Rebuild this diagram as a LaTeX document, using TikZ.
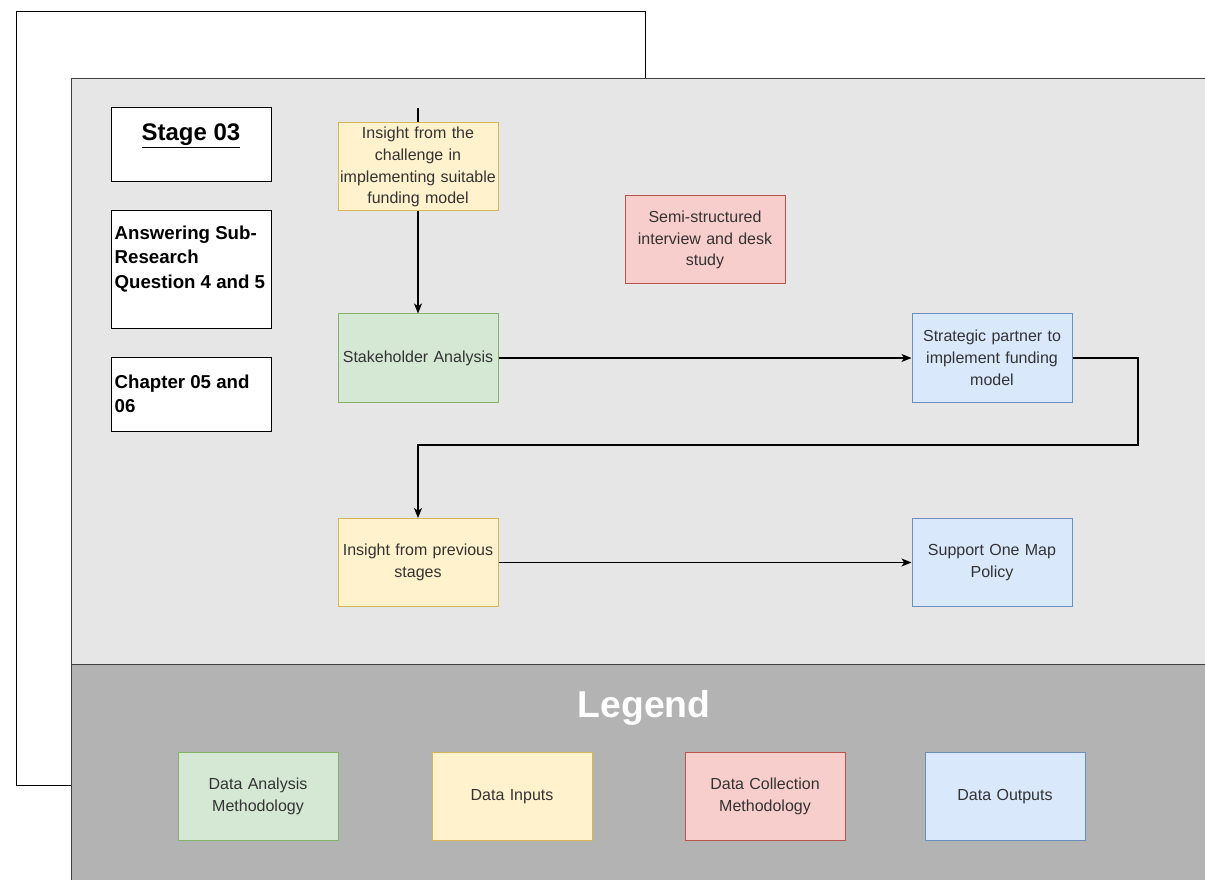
\documentclass[tikz,border=0pt]{standalone}
\usepackage{fontspec}
\setmainfont{Liberation Sans}
\usetikzlibrary{arrows.meta,positioning}
\definecolor{greenfill}{HTML}{D5E8D4}
\definecolor{greenline}{HTML}{82B366}
\definecolor{yellowfill}{HTML}{FFF2CC}
\definecolor{yellowline}{HTML}{D6B656}
\definecolor{redfill}{HTML}{F8CECC}
\definecolor{redline}{HTML}{B85450}
\definecolor{bluefill}{HTML}{DAE8FC}
\definecolor{blueline}{HTML}{6C8EBF}
\definecolor{panelgrey}{HTML}{E6E6E6}
\definecolor{legendgrey}{HTML}{B3B3B3}

\begin{document}
\begin{tikzpicture}[x=0.75pt,y=-0.75pt,->,>={Stealth[length=7.5pt,width=6pt,inset=2pt]},line width=1pt,node distance=430.5pt,
  box/.style={rectangle,draw,line width=0.75pt,minimum width=120pt,minimum height=66pt,text width=118pt,align=center,inner xsep=1pt,inner ysep=2pt,font=\fontsize{12}{16.3}\selectfont,text=black!80},
  analysis/.style={box,fill=greenfill,draw=greenline},
  inputs/.style={box,fill=yellowfill,draw=yellowline},
  collection/.style={box,fill=redfill,draw=redline},
  outputs/.style={box,fill=bluefill,draw=blueline},
  info/.style={rectangle,draw,fill=white,line width=0.75pt,minimum width=120pt},
  infotext/.style={anchor=north west,inner sep=0pt,align=left,font=\bfseries\fontsize{14}{18.4}\selectfont}]
  \clip (0,0) rectangle (1205,880);
  % panels
  \draw[-,line width=0.75pt] (16,12) rectangle (645,785);
  \draw[-,line width=0.75pt,fill=panelgrey,draw=black!75] (71,79) rectangle (1220,895);
  \draw[-,line width=0.75pt,fill=legendgrey,draw=black!75] (71,664) rectangle (1220,895);
  % stage info
  \node[info,minimum height=55.5pt] (stage) at (191,145) {};
  \node[font=\bfseries\fontsize{18}{22}\selectfont] (stagetxt) at (191,136) {\underline{Stage 03}};
  \node[info,minimum height=87.75pt] (question) at (191,269.5) {};
  \node[infotext] (questiontxt) at (114,225) {Answering Sub-\\Research\\Question 4 and 5};
  \node[info,minimum height=55.5pt] (chapter) at (191,394) {};
  \node[infotext] (chaptertxt) at (114,374) {Chapter 05 and\\06};
  % flow
  \coordinate (topin) at (418,108);
  \node[inputs] (challenge) at (418,167) {Insight from the\\challenge in\\implementing suitable\\funding model};
  \node[analysis] (stakeholder) at (418,358) {Stakeholder Analysis};
  \node[collection] (interview) at (705,240) {Semi-structured\\interview and desk\\study};
  \node[outputs] (partner) [right of=stakeholder] {Strategic partner to\\implement funding\\model};
  \node[inputs] (previous) at (418,562.5) {Insight from previous\\stages};
  \node[outputs] (onemap) [right of=previous] {Support One Map\\Policy};
  \coordinate (turn) at (1138,445);
  \draw[-] (topin) -- (challenge);
  \draw (challenge) -- (stakeholder);
  \draw (stakeholder) -- (partner);
  \draw (partner.east) -| (turn) -| (previous);
  \draw (previous) -- (onemap);
  % legend
  \node[text=white,font=\bfseries\fontsize{28}{34}\selectfont] (legend) at (644,708) {Legend};
  \node[analysis] (leganalysis) at (258,796.5) {Data Analysis\\Methodology};
  \node[inputs] (leginputs) at (512,796.5) {Data Inputs};
  \node[collection] (legcollection) at (765,796.5) {Data Collection\\Methodology};
  \node[outputs] (legoutputs) at (1005,796.5) {Data Outputs};
\end{tikzpicture}
\end{document}
